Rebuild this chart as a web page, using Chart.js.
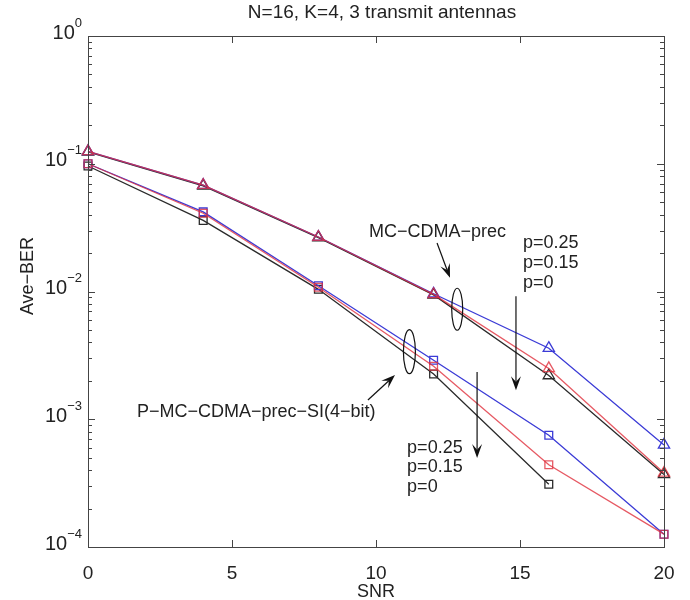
<!DOCTYPE html>
<html lang="en">
<head>
<meta charset="UTF-8">
<title>Ave-BER vs SNR</title>
<script src="https://cdn.jsdelivr.net/npm/chart.js"></script>
<style>
  body { margin: 0; background: #fff; }
  #berChart { display: block; }
</style>
</head>
<body>
<canvas id="berChart" width="690" height="600"></canvas>
<script>
// SNR points
const snr = [0, 4, 8, 12, 16, 20];
// MC-CDMA-prec (triangles)
const mcP025 = [0.125, 0.068, 0.0267, 0.0096, 0.0036, 0.00063];
const mcP015 = [0.125, 0.068, 0.0267, 0.0095, 0.0025, 0.00038];
const mcP0   = [0.124, 0.067, 0.0264, 0.0094, 0.0022, 0.00037];
// P-MC-CDMA-prec-SI(4-bit) (squares), p=0 stops at 16
const pmcP025 = [0.100, 0.042, 0.0111, 0.0029, 0.00075, 0.000126];
const pmcP015 = [0.100, 0.041, 0.0108, 0.0026, 0.00044, 0.000126];
const pmcP0   = [0.096, 0.036, 0.0104, 0.00226, 0.00031];

const xTicks = [0, 5, 10, 15, 20];
const yTicks = [1, 0.1, 0.01, 0.001, 0.0001];
const yTickExp = ['0', '\u22121', '\u22122', '\u22123', '\u22124'];

const titleText = 'N=16, K=4, 3 transmit antennas';
const xTitle = 'SNR';
const yTitle = 'Ave\u2212BER';

// annotations, placed in data coordinates
const notes = [
    { type: 'text', text: 'MC\u2212CDMA\u2212prec', x: 9.76, y: 0.0292 },
    { type: 'arrow', x1: 12.12, y1: 0.024, x2: 12.57, y2: 0.0128 },
    { type: 'ellipse', x: 12.82, y: 0.00726, rx: 5.5, ry: 21 },
    { type: 'text', text: 'p=0.25', x: 15.1, y: 0.024 },
    { type: 'text', text: 'p=0.15', x: 15.1, y: 0.0167 },
    { type: 'text', text: 'p=0', x: 15.1, y: 0.01166 },
    { type: 'arrow', x1: 14.86, y1: 0.0092, x2: 14.86, y2: 0.00169 },
    { type: 'ellipse', x: 11.16, y: 0.00338, rx: 6, ry: 22 },
    { type: 'arrow', x1: 9.72, y1: 0.001415, x2: 10.66, y2: 0.00222 },
    { type: 'text', text: 'P\u2212MC\u2212CDMA\u2212prec\u2212SI(4\u2212bit)', x: 1.70, y: 0.00114 },
    { type: 'arrow', x1: 13.51, y1: 0.00234, x2: 13.51, y2: 0.000497 },
    { type: 'text', text: 'p=0.25', x: 11.08, y: 0.000596 },
    { type: 'text', text: 'p=0.15', x: 11.08, y: 0.000423 },
    { type: 'text', text: 'p=0', x: 11.08, y: 0.000295 }
];

const BLUE = '#3b3bd6';
const RED = 'rgba(224, 48, 60, 0.8)';
const BLACK = '#2a2a2a';
const FONT = '"Liberation Sans", Arial, sans-serif';

function series(label, ys, color, style, radius) {
    return {
        label: label,
        data: ys.map((y, i) => ({ x: snr[i], y: y })),
        borderColor: color,
        borderWidth: 1.3,
        pointStyle: style,
        pointRadius: radius,
        pointBorderColor: color,
        pointBorderWidth: 1.3,
        pointBackgroundColor: 'rgba(0,0,0,0)',
        fill: false,
        tension: 0,
        clip: false
    };
}

function drawArrow(ctx, x1, y1, x2, y2) {
    const a = Math.atan2(y2 - y1, x2 - x1);
    const L = 14, W = 5;
    ctx.beginPath();
    ctx.moveTo(x1, y1);
    ctx.lineTo(x2 - Math.cos(a) * L * 0.6, y2 - Math.sin(a) * L * 0.6);
    ctx.stroke();
    ctx.save();
    ctx.translate(x2, y2);
    ctx.rotate(a);
    ctx.beginPath();
    ctx.moveTo(0, 0);
    ctx.lineTo(-L, -W);
    ctx.lineTo(-L * 0.6, 0);
    ctx.lineTo(-L, W);
    ctx.closePath();
    ctx.fill();
    ctx.restore();
}

const axesPlugin = {
    id: 'matlabAxes',
    afterDatasetsDraw(chart) {
        const ctx = chart.ctx;
        const xs = chart.scales.x, ys = chart.scales.y;
        const a = chart.chartArea;
        ctx.save();

        // annotations
        ctx.strokeStyle = '#111';
        ctx.fillStyle = '#111';
        ctx.lineWidth = 1.2;
        ctx.font = '18px ' + FONT;
        ctx.textAlign = 'left';
        ctx.textBaseline = 'middle';
        notes.forEach(n => {
            if (n.type === 'text') {
                ctx.fillStyle = '#222';
                ctx.fillText(n.text, xs.getPixelForValue(n.x), ys.getPixelForValue(n.y));
            } else if (n.type === 'arrow') {
                ctx.fillStyle = '#111';
                drawArrow(ctx, xs.getPixelForValue(n.x1), ys.getPixelForValue(n.y1),
                          xs.getPixelForValue(n.x2), ys.getPixelForValue(n.y2));
            } else if (n.type === 'ellipse') {
                ctx.beginPath();
                ctx.ellipse(xs.getPixelForValue(n.x), ys.getPixelForValue(n.y), n.rx, n.ry, 0, 0, Math.PI * 2);
                ctx.stroke();
            }
        });

        // box
        ctx.strokeStyle = '#444';
        ctx.lineWidth = 1;
        ctx.strokeRect(a.left + 0.5, a.top + 0.5, a.right - a.left, a.bottom - a.top);

        // x ticks, inward on top and bottom
        ctx.beginPath();
        xTicks.forEach(v => {
            const px = Math.round(xs.getPixelForValue(v)) + 0.5;
            ctx.moveTo(px, a.bottom); ctx.lineTo(px, a.bottom - 7);
            ctx.moveTo(px, a.top); ctx.lineTo(px, a.top + 7);
        });
        // y major and minor ticks, inward on left and right
        yTicks.forEach(v => {
            const py = Math.round(ys.getPixelForValue(v)) + 0.5;
            ctx.moveTo(a.left, py); ctx.lineTo(a.left + 7, py);
            ctx.moveTo(a.right, py); ctx.lineTo(a.right - 7, py);
            if (v < 1) {
                for (let m = 2; m <= 9; m++) {
                    const pm = Math.round(ys.getPixelForValue(v * m)) + 0.5;
                    ctx.moveTo(a.left, pm); ctx.lineTo(a.left + 4, pm);
                    ctx.moveTo(a.right, pm); ctx.lineTo(a.right - 4, pm);
                }
            }
        });
        ctx.stroke();

        // tick labels
        ctx.fillStyle = '#222';
        ctx.font = '19px ' + FONT;
        ctx.textAlign = 'center';
        ctx.textBaseline = 'middle';
        xTicks.forEach(v => {
            ctx.fillText(String(v), xs.getPixelForValue(v), a.bottom + 27);
        });
        yTicks.forEach((v, i) => {
            const py = ys.getPixelForValue(v);
            const right = a.left - 6;
            ctx.font = '13px ' + FONT;
            ctx.textAlign = 'right';
            const ew = ctx.measureText(yTickExp[i]).width;
            ctx.fillText(yTickExp[i], right, py - 13);
            ctx.font = '20px ' + FONT;
            ctx.fillText('10', right - ew, py - 3);
        });

        // titles
        ctx.textAlign = 'center';
        ctx.font = '19px ' + FONT;
        ctx.fillText(titleText, (a.left + a.right) / 2 + 6, 13);
        ctx.font = '18px ' + FONT;
        ctx.fillText(xTitle, (a.left + a.right) / 2, a.bottom + 45);
        ctx.save();
        ctx.translate(28, 276);
        ctx.rotate(-Math.PI / 2);
        ctx.fillText(yTitle, 0, 0);
        ctx.restore();

        ctx.restore();
    }
};

new Chart(document.getElementById('berChart'), {
    type: 'line',
    data: {
        // first dataset is drawn on top
        datasets: [
            series('MC-CDMA-prec p=0.15', mcP015, RED, 'triangle', 6.5),
            series('MC-CDMA-prec p=0.25', mcP025, BLUE, 'triangle', 6.5),
            series('MC-CDMA-prec p=0', mcP0, BLACK, 'triangle', 6.5),
            series('P-MC-CDMA-prec-SI(4-bit) p=0.15', pmcP015, RED, 'rect', 5.5),
            series('P-MC-CDMA-prec-SI(4-bit) p=0.25', pmcP025, BLUE, 'rect', 5.5),
            series('P-MC-CDMA-prec-SI(4-bit) p=0', pmcP0, BLACK, 'rect', 5.5)
        ]
    },
    options: {
        responsive: false,
        animation: false,
        devicePixelRatio: 1,
        layout: { padding: { left: 88, right: 26, top: 36, bottom: 53 } },
        plugins: {
            legend: { display: false },
            tooltip: { enabled: false },
            title: { display: false }
        },
        scales: {
            x: { type: 'linear', min: 0, max: 20, display: false },
            y: { type: 'logarithmic', min: 0.0001, max: 1, display: false }
        }
    },
    plugins: [axesPlugin]
});
</script>
</body>
</html>
